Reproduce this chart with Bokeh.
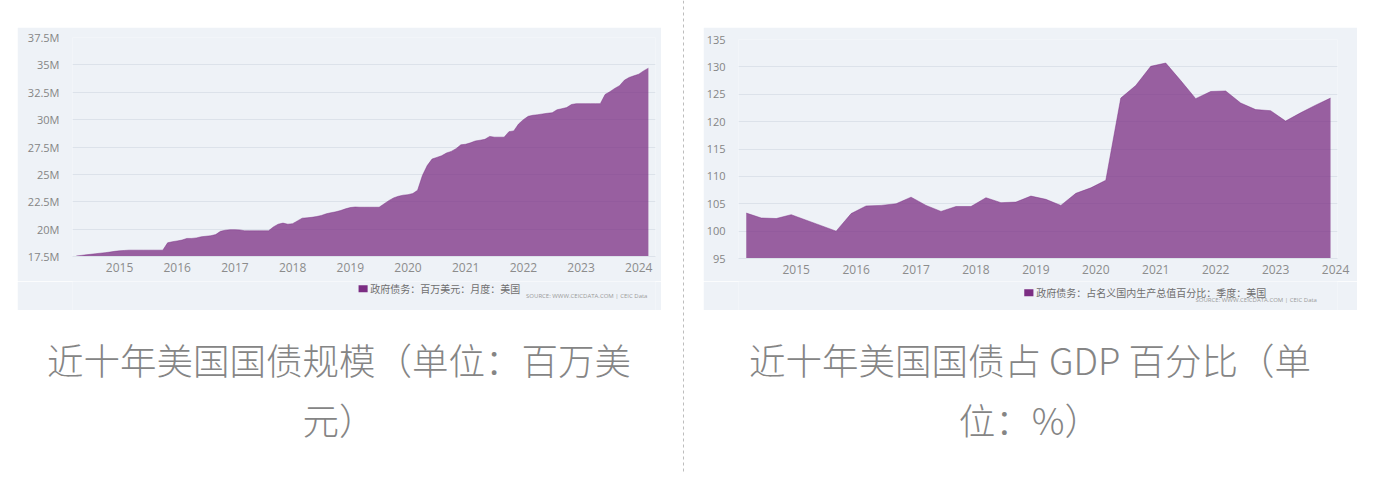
from bokeh.plotting import figure
from bokeh.layouts import row, column
from bokeh.models import Range1d, FixedTicker, CustomJSTickFormatter, Spacer, Span, Div
from bokeh.embed import file_html
from bokeh.resources import INLINE
from bokeh.core.properties import value

# ---------------- data ----------------
# Left: US government debt, million USD (shown in "M" of million USD), monthly Apr 2014 - Mar 2024
debt_start = (2014, 4)
debt_values = [
    17.55, 17.60, 17.65, 17.70, 17.75, 17.80, 17.85, 17.90, 17.97,              # 2014 Apr-Dec
    18.02, 18.05, 18.08, 18.08, 18.08, 18.08, 18.08, 18.08, 18.08, 18.08, 18.75, 18.85,  # 2015
    18.92, 19.00, 19.15, 19.15, 19.20, 19.30, 19.35, 19.40, 19.50, 19.80, 19.90, 19.95,  # 2016
    19.95, 19.93, 19.85, 19.85, 19.85, 19.85, 19.85, 19.85, 20.20, 20.45, 20.55, 20.45,  # 2017
    20.50, 20.75, 21.00, 21.03, 21.08, 21.15, 21.25, 21.40, 21.50, 21.58, 21.70, 21.85,  # 2018
    21.97, 22.02, 22.00, 22.00, 22.00, 22.00, 22.00, 22.30, 22.60, 22.85, 23.00, 23.10,  # 2019
    23.15, 23.25, 23.55, 24.90, 25.80, 26.40, 26.55, 26.70, 26.95, 27.10, 27.35, 27.70,  # 2020
    27.75, 27.88, 28.05, 28.12, 28.20, 28.47, 28.40, 28.40, 28.40, 28.90, 28.97, 29.60,  # 2021
    30.00, 30.30, 30.40, 30.45, 30.52, 30.58, 30.63, 30.90, 31.00, 31.10, 31.38, 31.46,  # 2022
    31.46, 31.46, 31.46, 31.46, 31.46, 32.30, 32.55, 32.85, 33.10, 33.60, 33.85, 34.00,  # 2023
    34.15, 34.45, 34.70,                                                          # 2024 Jan-Mar
]
debt_yticks = [17.5, 20, 22.5, 25, 27.5, 30, 32.5, 35, 37.5]
debt_ylabels = ["17.5M", "20M", "22.5M", "25M", "27.5M", "30M", "32.5M", "35M", "37.5M"]

# Right: government debt as % of GDP, quarterly 2014Q1 - 2023Q4
gdp_quarters = [f"{y}Q{q}" for y in range(2014, 2024) for q in (1, 2, 3, 4)]
gdp_values = [
    103.3, 102.4, 102.3, 103.0,   # 2014
    102.0, 101.0, 100.0, 103.2,   # 2015
    104.6, 104.7, 105.0, 106.2,   # 2016
    104.7, 103.6, 104.5, 104.5,   # 2017
    106.1, 105.2, 105.3, 106.4,   # 2018
    105.8, 104.7, 106.9, 107.9,   # 2019
    109.3, 124.3, 126.6, 130.1,   # 2020
    130.7, 127.5, 124.2, 125.5,   # 2021
    125.6, 123.4, 122.2, 122.0,   # 2022
    120.1, 121.6, 123.0, 124.3,   # 2023
]
gdp_yticks = [95, 100, 105, 110, 115, 120, 125, 130, 135]
gdp_ylabels = ["95", "100", "105", "110", "115", "120", "125", "130", "135"]

year_ticks = [2015, 2016, 2017, 2018, 2019, 2020, 2021, 2022, 2023, 2024]
year_labels = ["2015", "2016", "2017", "2018", "2019", "2020", "2021", "2022", "2023", "2024"]

legend_left = "政府债务：百万美元：月度：美国"
legend_right = "政府债务：占名义国内生产总值百分比：季度：美国"
source_text = "SOURCE: WWW.CEICDATA.COM | CEIC Data"
caption_left = ["近十年美国国债规模（单位：百万美", "元）"]
caption_right = ["近十年美国国债占 GDP 百分比（单", "位：%）"]

# ---------------- derived x positions (dates -> decimal years) ----------------
debt_x = []
y0, m0 = debt_start
for i in range(len(debt_values)):
    mm = m0 - 1 + i
    debt_x.append(y0 + mm // 12 + (mm % 12) / 12)
gdp_x = [int(q[:4]) + (int(q[-1]) * 3 - 1) / 12 for q in gdp_quarters]

# ---------------- styles ----------------
BOX_BG = "#EEF2F7"
SERIES = "#7B2D83"
GRID = "#DCE2EA"
TICK_FONT = "Open Sans"
CJK_FONT = "Noto Sans CJK SC"


def label_formatter(tick_values, tick_labels):
    return CustomJSTickFormatter(
        args=dict(tvals=tick_values, tlabs=tick_labels),
        code="const i = tvals.findIndex(t => Math.abs(t - tick) < 1e-9); return i >= 0 ? tlabs[i] : '';",
    )


def make_chart(x, y, xr, yr, yticks, ylabels, width, bl, br, bt, bb):
    p = figure(width=width, height=254, x_range=Range1d(*xr), y_range=Range1d(*yr),
               output_backend="svg", toolbar_location=None,
               min_border_left=bl, min_border_right=br, min_border_top=bt, min_border_bottom=bb)
    p.background_fill_color = BOX_BG
    p.border_fill_color = BOX_BG
    p.outline_line_color = None
    p.varea(x=x, y1=yr[0], y2=y, fill_color=SERIES, fill_alpha=0.75)
    p.line(x=x, y=y, line_color=SERIES, line_width=1, line_alpha=0.45)

    p.xgrid.grid_line_color = None
    p.ygrid.grid_line_color = GRID
    p.ygrid.ticker = FixedTicker(ticks=yticks)

    p.xaxis.ticker = FixedTicker(ticks=year_ticks)
    p.xaxis.formatter = label_formatter(year_ticks, year_labels)
    p.xaxis.axis_line_color = GRID
    p.xaxis.major_tick_line_color = None
    p.xaxis.minor_tick_line_color = None
    p.xaxis.major_label_standoff = 0
    p.xaxis.major_label_text_font = TICK_FONT
    p.xaxis.major_label_text_font_size = "12px"
    p.xaxis.major_label_text_color = "#8C8C8C"

    p.yaxis.ticker = FixedTicker(ticks=yticks)
    p.yaxis.formatter = label_formatter(yticks, ylabels)
    p.yaxis.axis_line_color = None
    p.yaxis.major_tick_line_color = None
    p.yaxis.minor_tick_line_color = None
    p.yaxis.major_label_standoff = 7
    p.yaxis.major_label_text_font = TICK_FONT
    p.yaxis.major_label_text_font_size = "11px"
    p.yaxis.major_label_text_color = "#858585"
    return p


def make_footer(width, legend_text, lx, ly, sx, sy):
    f = figure(width=width, height=29, x_range=Range1d(0, width), y_range=Range1d(0, 29),
               x_axis_type=None, y_axis_type=None, min_border=0,
               output_backend="svg", toolbar_location=None)
    f.background_fill_color = BOX_BG
    f.border_fill_color = BOX_BG
    f.outline_line_color = None
    f.grid.visible = False
    f.rect(x=[lx + 5], y=[ly], width=10, height=7, fill_color=SERIES, line_color=None)
    f.text(x=[lx + 13], y=[ly], text=[legend_text], text_font=value(CJK_FONT),
           text_font_size="10px", text_color="#6E6E6E", text_baseline="middle", text_align="left")
    f.text(x=[sx], y=[sy], text=[source_text], text_font=value(TICK_FONT),
           text_font_size="6px", text_color="#9A9A9A", text_baseline="middle", text_align="left")
    return f


def make_caption(width, lines):
    style = {
        "text-align": "center",
        "font-family": "'Noto Sans CJK SC', sans-serif",
        "font-size": "36.5px",
        "font-weight": "300",
        "line-height": "60px",
        "color": "#858585",
        "padding-top": "20px",
        "box-sizing": "border-box",
    }
    return Div(text="<br>".join(lines), width=width, height=162, margin=0, styles=style)


left_chart = make_chart(debt_x, debt_values, (2014.185, 2024.29), (17.5, 37.5),
                        debt_yticks, debt_ylabels, 644, 55, 6, 10, 25)
right_chart = make_chart(gdp_x, gdp_values, (2014.037, 2024.033), (95, 135),
                         gdp_yticks, gdp_ylabels, 654, 32, 20, 12, 23)

left_footer = make_footer(644, legend_left, 316, 21.7, 501, 14.3)
right_footer = make_footer(654, legend_right, 312, 17.7, 499, 10.7)

left_caption = make_caption(644, caption_left)
right_caption = make_caption(654, caption_right)

divider = figure(width=42, height=472, x_range=Range1d(0, 42), y_range=Range1d(0, 472),
                 x_axis_type=None, y_axis_type=None, min_border=0,
                 output_backend="svg", toolbar_location=None)
divider.outline_line_color = None
divider.grid.visible = False
divider.background_fill_color = "white"
divider.border_fill_color = "white"
divider.add_layout(Span(location=22, dimension="height", line_color="#BDBDBD",
                        line_width=1, line_dash="3 3"))

layout = row(
    Spacer(width=17, height=472),
    column(Spacer(width=644, height=27), left_chart, left_footer, left_caption),
    divider,
    column(Spacer(width=654, height=27), right_chart, right_footer, right_caption),
)

open("out.html", "w").write(file_html(layout, INLINE))
